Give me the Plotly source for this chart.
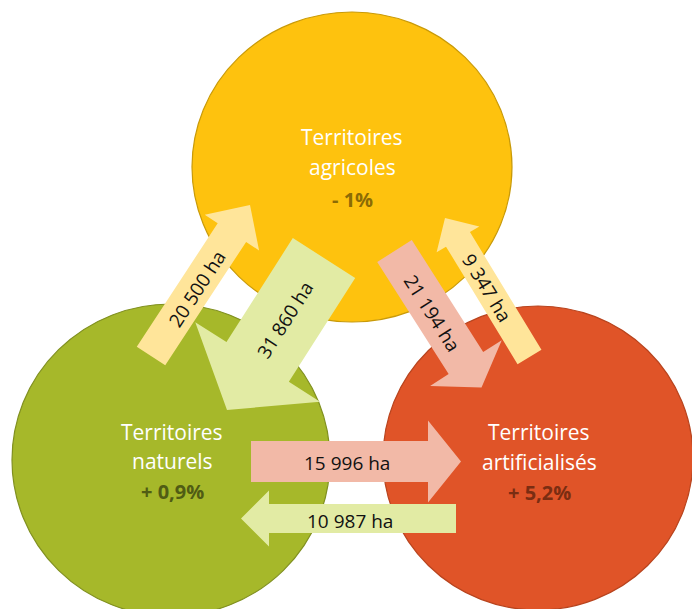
import math
import plotly.graph_objects as go

# ---------------- data ----------------
territories = ["agricoles", "naturels", "artificialisés"]
evolution = ["- 1%", "+ 0,9%", "+ 5,2%"]

flow_from = ["naturels", "agricoles", "agricoles", "artificialisés", "naturels", "artificialisés"]
flow_to = ["agricoles", "naturels", "artificialisés", "agricoles", "artificialisés", "naturels"]
flow_ha = [20500, 31860, 21194, 9347, 15996, 10987]

# ---------------- layout / styling (not data) ----------------
W, H = 692, 609
circle_geom = {  # center x, center y, rx, ry
    "agricoles": (352, 167, 160, 155),
    "naturels": (171, 460, 159, 156),
    "artificialisés": (538, 458, 155, 152),
}
circle_fill = {"agricoles": "#FEC20E", "naturels": "#A6B82A", "artificialisés": "#E05428"}
circle_line = {"agricoles": "#C99A08", "naturels": "#809020", "artificialisés": "#B8441E"}
pct_color = {"agricoles": "#8B6B05", "naturels": "#505C14", "artificialisés": "#7A2D12"}
label_pos = {  # x, y of the three text lines
    "agricoles": (352, [137, 167, 199]),
    "naturels": (172, [432, 461, 491]),
    "artificialisés": (539, [432, 462, 492]),
}

# arrow geometry: tail, tip, shaft width, head width, head length, label center
arrow_geom = [
    ((151, 356), (250, 205), 34, 65, 33, (197, 289)),
    ((324, 258), (227, 410), 74, 148, 57, (285, 320)),
    ((394.5, 251), (481.5, 387.5), 41, 85, 29, (432, 313)),
    ((529.5, 357), (445, 218), 28, 50, 25, (487, 288)),
    ((251, 461.5), (461, 461.5), 41, 82, 33, (347, 463)),
    ((456, 518.5), (241, 518.5), 29, 56, 28, (350, 521)),
]
# arrows are coloured after their destination
arrow_fill = {"agricoles": "#FFE59A", "naturels": "#E2EBA4", "artificialisés": "#F2B9A7"}

FONT = "Open Sans"


def fmt_ha(v):
    return f"{v:,}".replace(",", " ") + " ha"


def arrow_path(tail, tip, sw, hw, hl):
    tx, ty = tail
    px, py = tip
    dx, dy = px - tx, py - ty
    L = math.hypot(dx, dy)
    ux, uy = dx / L, dy / L
    nx, ny = -uy, ux
    bx, by = px - ux * hl, py - uy * hl
    pts = [
        (tx + nx * sw / 2, ty + ny * sw / 2),
        (bx + nx * sw / 2, by + ny * sw / 2),
        (bx + nx * hw / 2, by + ny * hw / 2),
        (px, py),
        (bx - nx * hw / 2, by - ny * hw / 2),
        (bx - nx * sw / 2, by - ny * sw / 2),
        (tx - nx * sw / 2, ty - ny * sw / 2),
    ]
    return "M " + " L ".join(f"{x:.2f},{y:.2f}" for x, y in pts) + " Z"


def text_angle(tail, tip):
    a = math.degrees(math.atan2(tip[1] - tail[1], tip[0] - tail[0]))
    if a > 90:
        a -= 180
    elif a <= -90:
        a += 180
    return a


fig = go.Figure()
shapes = []
annotations = []

for t in territories:
    cx, cy, rx, ry = circle_geom[t]
    shapes.append(dict(
        type="circle", xref="x", yref="y",
        x0=cx - rx, x1=cx + rx, y0=cy - ry, y1=cy + ry,
        fillcolor=circle_fill[t], line=dict(color=circle_line[t], width=1.2),
        layer="below",
    ))

for src, dst, val, geom in zip(flow_from, flow_to, flow_ha, arrow_geom):
    tail, tip, sw, hw, hl, lab = geom
    shapes.append(dict(
        type="path", xref="x", yref="y",
        path=arrow_path(tail, tip, sw, hw, hl),
        fillcolor=arrow_fill[dst], line=dict(width=0),
        layer="above",
    ))
    annotations.append(dict(
        x=lab[0], y=lab[1], xref="x", yref="y",
        text=fmt_ha(val), showarrow=False,
        textangle=text_angle(tail, tip),
        font=dict(family=FONT, size=19, color="#111111"),
    ))

for t, ev in zip(territories, evolution):
    x, ys = label_pos[t]
    lines = ["Territoires", t]
    for txt, y in zip(lines, ys[:2]):
        annotations.append(dict(
            x=x, y=y, xref="x", yref="y", text=txt, showarrow=False,
            font=dict(family=FONT, size=21, color="white"),
        ))
    annotations.append(dict(
        x=x, y=ys[2], xref="x", yref="y", text=f"<b>{ev}</b>", showarrow=False,
        font=dict(family=FONT, size=20, color=pct_color[t]),
    ))

fig.update_layout(
    width=W, height=H,
    margin=dict(l=0, r=0, t=0, b=0),
    paper_bgcolor="white", plot_bgcolor="white",
    xaxis=dict(range=[0, W], visible=False, fixedrange=True),
    yaxis=dict(range=[H, 0], visible=False, fixedrange=True),
    shapes=shapes, annotations=annotations,
    showlegend=False,
)

fig.write_html(
    "out.html",
    config={"displayModeBar": False},
    post_script="document.body.style.margin='0';document.body.style.overflow='hidden';",
)
